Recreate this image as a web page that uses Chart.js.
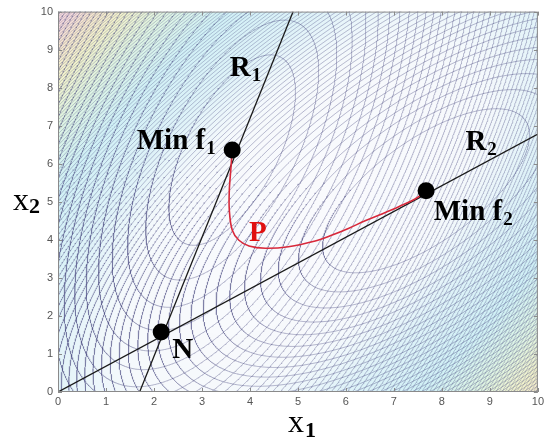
<!DOCTYPE html>
<html>
<head>
<meta charset="utf-8">
<script src="https://cdn.jsdelivr.net/npm/chart.js@4.4.1/dist/chart.umd.min.js"></script>
<style>
  html, body { margin: 0; background: #fff; }
</style>
</head>
<body>
<canvas id="chart" width="547" height="438"></canvas>
<script>
// axis ticks
const xTickValues = [0, 1, 2, 3, 4, 5, 6, 7, 8, 9, 10];
const yTickValues = [0, 1, 2, 3, 4, 5, 6, 7, 8, 9, 10];

// the two objectives: minimum point and quadratic form [a, b, c] -> a*u^2 + 2*b*u*v + c*v^2
const f1Center = [3.63, 6.36];
const f1Quad = [1.0, -0.32, 0.278];
const f2Center = [7.67, 5.29];
const f2Quad = [1.0, -0.68, 1.0];
// contour levels: first level and spacing, as many as fit in the box
const f1LevelStart = 1.1, f1LevelStep = 0.95, f1LevelCount = 85;
const f2LevelStart = 2.5, f2LevelStep = 1.3, f2LevelCount = 102;

// reaction lines
const r1X = [1.70, 4.90];
const r1Y = [0, 10];
const r2X = [0, 10];
const r2Y = [0, 6.78];

// Pareto curve P
const paretoX = [3.63, 3.60, 3.57, 3.57, 3.63, 3.77, 3.98, 4.32, 4.80, 5.36, 5.70, 6.05, 6.40, 6.75, 7.10, 7.45, 7.67];
const paretoY = [6.36, 5.83, 5.31, 4.78, 4.26, 3.99, 3.84, 3.78, 3.82, 3.97, 4.12, 4.30, 4.50, 4.68, 4.87, 5.08, 5.29];

// Min f1, Min f2, N
const markerX = [3.63, 7.67, 2.15];
const markerY = [6.36, 5.29, 1.58];

// text labels: main text, subscript, anchor (left, baseline) in data units, colour
const labelText = ["R", "Min f", "P", "N", "Min f", "R"];
const labelSub = ["1", "1", "", "", "2", "2"];
const labelX = [3.58, 1.64, 3.98, 2.38, 7.83, 8.49];
const labelY = [8.32, 6.40, 3.96, 0.89, 4.51, 6.35];
const labelColor = ["#000", "#000", "#e01010", "#000", "#000", "#000"];

// background shading (f1 + f2), washed-out colormap
const bgStops = [0, 0.15, 0.27, 0.45, 0.62, 0.78, 0.9, 1];
const bgColors = [[250, 250, 253], [245, 249, 252], [222, 242, 248], [208, 240, 246], [222, 244, 228], [242, 243, 204], [246, 232, 206], [244, 218, 220]];

function quad(q, c, x, y) {
  const u = x - c[0], v = y - c[1];
  return q[0] * u * u + 2 * q[1] * u * v + q[2] * v * v;
}

function ellipsePoints(center, q, level) {
  const a = q[0], b = q[1], c = q[2];
  const tr = a + c, det = a * c - b * b;
  const disc = Math.sqrt(tr * tr / 4 - det);
  const l1 = tr / 2 + disc, l2 = tr / 2 - disc;
  let e1 = Math.abs(b) > 1e-9 ? [b, l1 - a] : [1, 0];
  const n1 = Math.hypot(e1[0], e1[1]);
  e1 = [e1[0] / n1, e1[1] / n1];
  const e2 = [-e1[1], e1[0]];
  const ra = Math.sqrt(level / l1), rb = Math.sqrt(level / l2);
  const steps = Math.min(5000, Math.max(240, Math.ceil(2 * Math.PI * rb / 0.035)));
  const pts = [];
  let prevIn = false, prev = null;
  for (let i = 0; i <= steps; i++) {
    const t = 2 * Math.PI * i / steps;
    const ct = Math.cos(t) * ra, st = Math.sin(t) * rb;
    const x = center[0] + ct * e1[0] + st * e2[0];
    const y = center[1] + ct * e1[1] + st * e2[1];
    const inside = x > -0.3 && x < 10.3 && y > -0.3 && y < 10.3;
    if (inside) {
      if (!prevIn && prev) pts.push(prev);
      pts.push({ x, y });
    } else if (prevIn) {
      pts.push({ x, y });
      pts.push({ x, y: null });
    }
    prevIn = inside;
    prev = { x, y };
  }
  return pts;
}

// contour line sets, with a fade factor (0 = innermost)
const contourSets = [];
for (let k = 0; k < f1LevelCount; k++) {
  contourSets.push({ pts: ellipsePoints(f1Center, f1Quad, f1LevelStart + k * f1LevelStep), fade: k / f1LevelCount });
}
for (let k = 0; k < f2LevelCount; k++) {
  contourSets.push({ pts: ellipsePoints(f2Center, f2Quad, f2LevelStart + k * f2LevelStep), fade: k / f2LevelCount });
}

const datasets = [
  {
    data: markerX.map((x, i) => ({ x, y: markerY[i] })),
    pointRadius: 8.5,
    pointBackgroundColor: "#000",
    pointBorderWidth: 0,
    showLine: false,
  },
  {
    data: paretoX.map((x, i) => ({ x, y: paretoY[i] })),
    showLine: true,
    borderColor: "#d8283a",
    borderWidth: 1.6,
    pointRadius: 0,
    tension: 0.35,
  },
  {
    data: r1X.map((x, i) => ({ x, y: r1Y[i] })),
    showLine: true,
    borderColor: "#1a1a1a",
    borderWidth: 1.3,
    pointRadius: 0,
  },
  {
    data: r2X.map((x, i) => ({ x, y: r2Y[i] })),
    showLine: true,
    borderColor: "#1a1a1a",
    borderWidth: 1.3,
    pointRadius: 0,
  },
];
contourSets.forEach((set) => {
  const alpha = (0.5 - 0.22 * set.fade).toFixed(3);
  datasets.push({
    data: set.pts,
    showLine: true,
    borderColor: "rgba(75, 75, 130, " + alpha + ")",
    borderWidth: 0.8,
    pointRadius: 0,
    spanGaps: false,
  });
});

function bgColor(t) {
  t = Math.max(0, Math.min(1, t));
  for (let i = 1; i < bgStops.length; i++) {
    if (t <= bgStops[i]) {
      const f = (t - bgStops[i - 1]) / (bgStops[i] - bgStops[i - 1]);
      const c0 = bgColors[i - 1], c1 = bgColors[i];
      return [0, 1, 2].map((j) => Math.round(c0[j] + (c1[j] - c0[j]) * f));
    }
  }
  return bgColors[bgColors.length - 1];
}

let bgImage = null;
const backgroundPlugin = {
  id: "shade",
  beforeDatasetsDraw(chart) {
    const { ctx, chartArea: a, scales } = chart;
    const w = Math.round(a.right - a.left), h = Math.round(a.bottom - a.top);
    if (!bgImage) {
      bgImage = ctx.createImageData(w, h);
      for (let j = 0; j < h; j++) {
        const y = scales.y.getValueForPixel(a.top + j + 0.5);
        for (let i = 0; i < w; i++) {
          const x = scales.x.getValueForPixel(a.left + i + 0.5);
          const g = quad(f1Quad, f1Center, x, y) + quad(f2Quad, f2Center, x, y);
          const col = bgColor((g - 6) / 140);
          const p = (j * w + i) * 4;
          bgImage.data[p] = col[0];
          bgImage.data[p + 1] = col[1];
          bgImage.data[p + 2] = col[2];
          bgImage.data[p + 3] = 255;
        }
      }
    }
    ctx.putImageData(bgImage, Math.round(a.left), Math.round(a.top));
  },
};

const framePlugin = {
  id: "frame",
  afterDatasetsDraw(chart) {
    const { ctx, chartArea: a, scales } = chart;
    ctx.save();
    ctx.strokeStyle = "#8a8a8a";
    ctx.lineWidth = 1;
    ctx.strokeRect(a.left + 0.5, a.top + 0.5, a.right - a.left - 1, a.bottom - a.top - 1);
    ctx.beginPath();
    xTickValues.forEach((v) => {
      const px = Math.round(scales.x.getPixelForValue(v)) + 0.5;
      ctx.moveTo(px, a.bottom); ctx.lineTo(px, a.bottom - 4);
      ctx.moveTo(px, a.top); ctx.lineTo(px, a.top + 4);
    });
    yTickValues.forEach((v) => {
      const py = Math.round(scales.y.getPixelForValue(v)) + 0.5;
      ctx.moveTo(a.left, py); ctx.lineTo(a.left + 4, py);
      ctx.moveTo(a.right, py); ctx.lineTo(a.right - 4, py);
    });
    ctx.stroke();

    // labels
    ctx.textBaseline = "alphabetic";
    ctx.textAlign = "left";
    labelText.forEach((txt, i) => {
      const px = scales.x.getPixelForValue(labelX[i]);
      const py = scales.y.getPixelForValue(labelY[i]);
      ctx.fillStyle = labelColor[i];
      ctx.font = "bold 29px 'Liberation Serif', 'Times New Roman', serif";
      ctx.fillText(txt, px, py);
      if (labelSub[i]) {
        const w = ctx.measureText(txt).width;
        ctx.font = "bold 19px 'Liberation Serif', 'Times New Roman', serif";
        ctx.fillText(labelSub[i], px + w + 1, py + 5);
      }
    });

    // axis titles
    ctx.fillStyle = "#000";
    ctx.font = "32px 'Liberation Serif', 'Times New Roman', serif";
    ctx.fillText("x", 288, 432);
    ctx.fillText("x", 13, 210);
    ctx.font = "bold 22px 'Liberation Serif', 'Times New Roman', serif";
    ctx.fillText("1", 305, 437);
    ctx.fillText("2", 29, 213);
    ctx.restore();
  },
};

const tickFont = { family: "'Liberation Sans', Arial, sans-serif", size: 11 };

new Chart(document.getElementById("chart"), {
  type: "scatter",
  data: { datasets },
  options: {
    responsive: false,
    devicePixelRatio: 1,
    animation: false,
    events: [],
    layout: { padding: { top: 11, right: 6, left: 0, bottom: 0 } },
    plugins: { legend: { display: false }, tooltip: { enabled: false } },
    scales: {
      x: {
        type: "linear",
        min: 0,
        max: 10,
        afterFit: (s) => { s.height = 46; },
        afterBuildTicks: (s) => { s.ticks = xTickValues.map((v) => ({ value: v })); },
        ticks: { font: tickFont, color: "#555", padding: 3, maxRotation: 0 },
        grid: { display: false, drawTicks: false },
        border: { display: false },
      },
      y: {
        type: "linear",
        min: 0,
        max: 10,
        afterFit: (s) => { s.width = 58; },
        afterBuildTicks: (s) => { s.ticks = yTickValues.map((v) => ({ value: v })); },
        ticks: { font: tickFont, color: "#555", padding: 5 },
        grid: { display: false, drawTicks: false },
        border: { display: false },
      },
    },
  },
  plugins: [backgroundPlugin, framePlugin],
});
</script>
</body>
</html>
